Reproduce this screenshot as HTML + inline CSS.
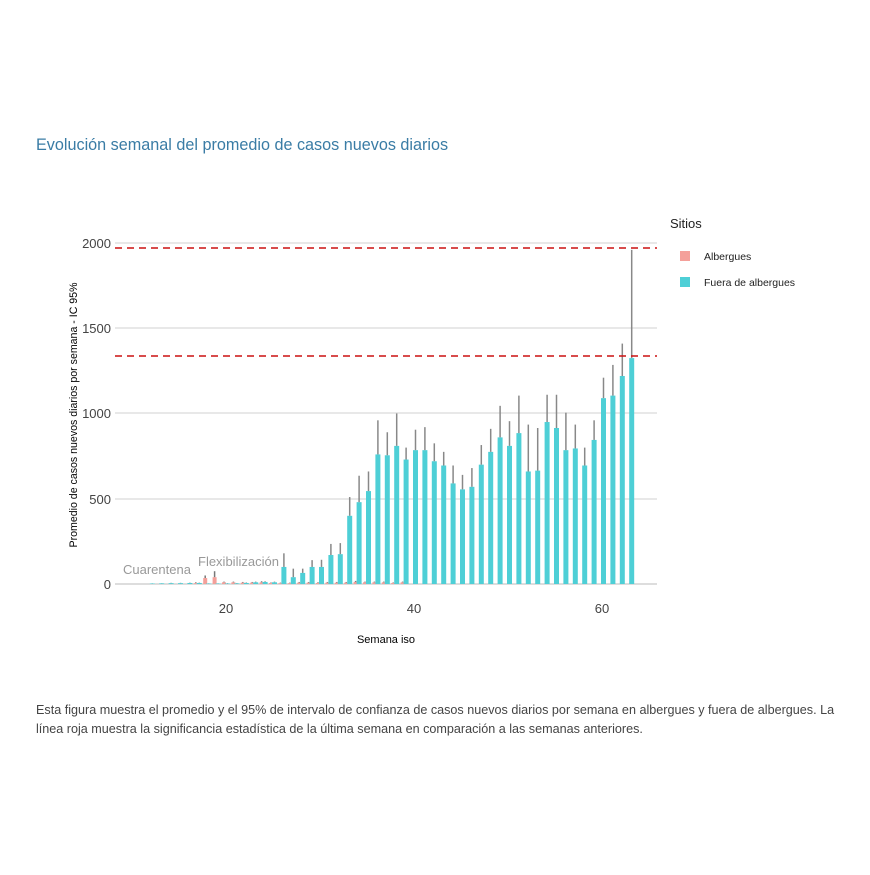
<!DOCTYPE html>
<html><head><meta charset="utf-8"><style>
body{margin:0;background:#fff;width:870px;height:870px;overflow:hidden;font-family:"Liberation Sans",sans-serif}
</style></head><body>
<svg id="s" width="870" height="870" xmlns="http://www.w3.org/2000/svg" font-family="Liberation Sans, sans-serif">
<text x="36" y="150" font-size="16.2" fill="#3a7ca5">Evolución semanal del promedio de casos nuevos diarios</text>
<g stroke="#d0d0d0" stroke-width="1">
<line x1="115" x2="657" y1="243" y2="243"/><line x1="115" x2="657" y1="328" y2="328"/>
<line x1="115" x2="657" y1="413" y2="413"/><line x1="115" x2="657" y1="499" y2="499"/>
<line x1="115" x2="657" y1="584" y2="584" stroke="#bbb"/>
</g>
<g font-size="13" fill="#444" text-anchor="end">
<text x="111" y="248">2000</text><text x="111" y="333">1500</text><text x="111" y="418">1000</text><text x="111" y="504">500</text><text x="111" y="589">0</text>
</g>
<g font-size="13" fill="#444" text-anchor="middle">
<text x="226" y="613">20</text><text x="414" y="613">40</text><text x="602" y="613">60</text>
</g>
<text x="386" y="643" font-size="11" text-anchor="middle" fill="#000">Semana iso</text>
<text transform="translate(77,415) rotate(-90)" font-size="10.6" text-anchor="middle" fill="#000">Promedio de casos nuevos diarios por semana - IC 95%</text>
<g id="bars"></g>
<g stroke="#cc1111" stroke-width="1.6" stroke-dasharray="7,5">
<line x1="115" x2="657" y1="248" y2="248"/><line x1="115" x2="657" y1="356" y2="356"/>
</g>
<text x="123" y="574" font-size="13" fill="#999">Cuarentena</text>
<text x="198" y="566" font-size="13" fill="#999">Flexibilización</text>
<text x="670" y="228" font-size="13" fill="#222">Sitios</text>
<rect x="680" y="251" width="10" height="10" fill="#f4a09a"/>
<text x="704" y="260" font-size="10.5" fill="#222">Albergues</text>
<rect x="680" y="277" width="10" height="10" fill="#4ecfd6"/>
<text x="704" y="286" font-size="10.5" fill="#222">Fuera de albergues</text>
<text x="36" y="714" font-size="12.6" fill="#444">Esta figura muestra el promedio y el 95% de intervalo de confianza de casos nuevos diarios por semana en albergues y fuera de albergues. La</text>
<text x="36" y="733" font-size="12.6" fill="#444">línea roja muestra la significancia estadística de la última semana en comparación a las semanas anteriores.</text>
</svg>
<script>
var t={12:[3,4],13:[4,5],14:[5,7],15:[5,7],16:[6,8],17:[6,8],18:[3,4],19:[3,4],20:[3,5],21:[4,6],22:[6,9],23:[10,14],24:[12,16],25:[10,14],26:[100,180],27:[40,90],28:[65,90],29:[100,140],30:[100,142],31:[170,235],32:[175,240],
33:[400,510],34:[480,635],35:[545,660],36:[760,960],37:[755,890],38:[810,1000],39:[730,800],40:[785,905],41:[785,920],42:[720,825],43:[695,775],44:[590,695],45:[555,640],46:[570,680],47:[700,815],48:[775,910],49:[860,1045],50:[810,955],51:[885,1105],52:[660,935],53:[665,915],54:[950,1110],55:[915,1110],56:[785,1005],57:[795,935],58:[695,800],59:[845,960],60:[1090,1210],61:[1105,1285],62:[1220,1410],63:[1325,1960]};
var p={17:[5,10],18:[35,50],19:[40,75],20:[10,14],21:[10,14],22:[8,12],23:[8,12],24:[10,16],25:[6,9],26:[5,8],27:[5,8],28:[8,12],29:[8,12],30:[6,10],31:[8,12],32:[8,12],33:[8,12],34:[12,18],35:[10,14],36:[10,14],37:[10,14],38:[6,9],39:[10,14]};
var y=function(v){return 584-v*0.1705},x=function(w){return 226+(w-20)*9.4};
var h='';
for(var w in p){var c=x(+w)-2;h+='<rect x="'+(c-2)+'" y="'+y(p[w][0])+'" width="4" height="'+(584-y(p[w][0]))+'" fill="#f4a09a"/><line x1="'+c+'" x2="'+c+'" y1="'+y(p[w][1])+'" y2="'+y(p[w][0])+'" stroke="#777" stroke-width="1.5"/>';}
for(var w in t){var c=x(+w)+1.5;h+='<rect x="'+(c-2.5)+'" y="'+y(t[w][0])+'" width="5" height="'+(584-y(t[w][0]))+'" fill="#4ecfd6"/><line x1="'+c+'" x2="'+c+'" y1="'+y(t[w][1])+'" y2="'+y(t[w][0])+'" stroke="#888" stroke-width="1.5"/>';}
document.getElementById('bars').innerHTML=h;
</script>
</body></html>
